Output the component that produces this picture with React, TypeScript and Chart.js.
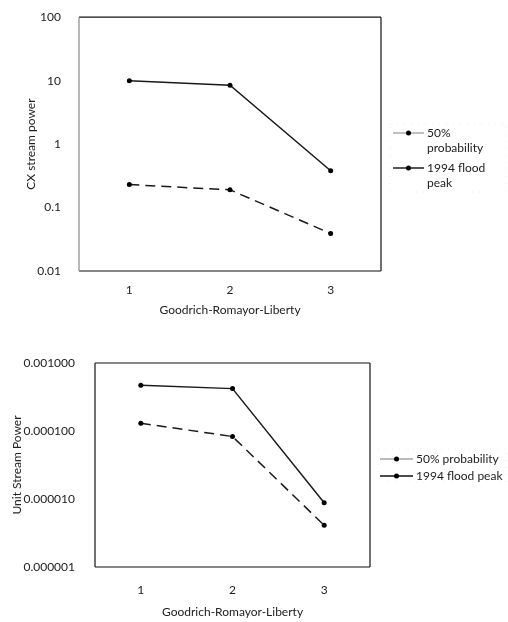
import React, { useEffect, useRef } from "react";
import { Chart, registerables } from "chart.js";

Chart.register(...registerables);

const categories = ["1", "2", "3"];
const seriesLabels = ["50% probability", "1994 flood peak"];
const cxProb50 = [0.23, 0.19, 0.039];
const cxFlood1994 = [10, 8.5, 0.38];
const cxTicks = [0.01, 0.1, 1, 10, 100];
const unitProb50 = [0.00013, 0.000083, 0.0000041];
const unitFlood1994 = [0.00047, 0.00042, 0.0000088];
const unitTicks = [0.000001, 0.00001, 0.0001, 0.001];
const xTitle = "Goodrich-Romayor-Liberty";
const cxTitle = "CX stream power";
const unitTitle = "Unit Stream Power";

const FONT = "Lato, 'DejaVu Sans', sans-serif";

const framePlugin = {
  id: "frame",
  afterDatasetsDraw(chart: any, _a: any, opts: any) {
    const { left, right, top, bottom } = chart.chartArea;
    const ctx = chart.ctx;
    ctx.save();
    ctx.lineWidth = 1.2;
    const seg = (x1: number, y1: number, x2: number, y2: number, c: string) => {
      ctx.strokeStyle = c;
      ctx.beginPath();
      ctx.moveTo(x1, y1);
      ctx.lineTo(x2, y2);
      ctx.stroke();
    };
    seg(left, top, right, top, "#111");
    seg(right, top, right, bottom, "#111");
    seg(left, bottom, right, bottom, "#111");
    seg(left, top, left, bottom, opts.leftColor || "#111");
    ctx.restore();
  },
};

const sideLegendPlugin = {
  id: "sideLegend",
  afterDraw(chart: any, _a: any, opts: any) {
    const ctx = chart.ctx;
    ctx.save();
    ctx.font = `${opts.fontSize}px ${FONT}`;
    ctx.textBaseline = "middle";
    ctx.textAlign = "left";
    if (opts.box) {
      ctx.strokeStyle = "#ececec";
      ctx.lineWidth = 1;
      ctx.setLineDash([1, 6]);
      ctx.strokeRect(opts.box[0], opts.box[1], opts.box[2], opts.box[3]);
      ctx.setLineDash([]);
    }
    let y = opts.y;
    chart.data.datasets.forEach((ds: any, i: number) => {
      const words = String(ds.label).split(" ");
      const lines: string[] = [];
      let cur = "";
      words.forEach((w) => {
        const t = cur ? cur + " " + w : w;
        if (cur && ctx.measureText(t).width > opts.maxWidth) {
          lines.push(cur);
          cur = w;
        } else cur = t;
      });
      if (cur) lines.push(cur);
      ctx.strokeStyle = opts.lineColors[i];
      ctx.lineWidth = opts.lineWidths[i];
      ctx.beginPath();
      ctx.moveTo(opts.x, y);
      ctx.lineTo(opts.x + opts.lineLen, y);
      ctx.stroke();
      ctx.fillStyle = "#000";
      ctx.beginPath();
      ctx.arc(opts.x + opts.lineLen / 2, y, 2.5, 0, Math.PI * 2);
      ctx.fill();
      ctx.fillStyle = "#222";
      lines.forEach((l, j) => ctx.fillText(l, opts.x + opts.lineLen + 3, y + j * opts.lineHeight));
      y += lines.length * opts.lineHeight + opts.gap;
    });
    ctx.restore();
  },
};

type Cfg = {
  width: number;
  height: number;
  top: number;
  prob: number[];
  flood: number[];
  ticks: number[];
  fmt: (v: number) => string;
  yTitle: string;
  padLeft: number;
  padTop: number;
  padRight: number;
  padBottom: number;
  yAxisWidth: number;
  xAxisHeight: number;
  yTickPad: number;
  xTickPad: number;
  legend: any;
  leftColor: string;
};

function LogChart(cfg: Cfg) {
  const ref = useRef<HTMLCanvasElement>(null);
  useEffect(() => {
    if (!ref.current) return;
    const chart = new Chart(ref.current, {
      type: "line",
      data: {
        labels: categories,
        datasets: [
          {
            label: seriesLabels[0],
            data: cfg.prob,
            borderColor: "#1a1a1a",
            borderWidth: 1.5,
            borderDash: [10, 6],
            pointRadius: 2.5,
            pointBackgroundColor: "#000",
            pointBorderColor: "#000",
            pointBorderWidth: 0,
            tension: 0,
          },
          {
            label: seriesLabels[1],
            data: cfg.flood,
            borderColor: "#1a1a1a",
            borderWidth: 1.5,
            pointRadius: 2.5,
            pointBackgroundColor: "#000",
            pointBorderColor: "#000",
            pointBorderWidth: 0,
            tension: 0,
          },
        ],
      },
      options: {
        animation: false,
        responsive: false,
        maintainAspectRatio: false,
        layout: {
          padding: { left: cfg.padLeft, top: cfg.padTop, right: cfg.padRight, bottom: cfg.padBottom },
        },
        font: { family: FONT },
        plugins: {
          legend: { display: false },
          tooltip: { enabled: false },
          frame: { leftColor: cfg.leftColor },
          sideLegend: cfg.legend,
        } as any,
        scales: {
          x: {
            type: "category",
            offset: true,
            grid: { display: false },
            border: { display: false },
            ticks: { color: "#222", font: { family: FONT, size: 12 }, padding: cfg.xTickPad, maxRotation: 0 },
            title: {
              display: true,
              text: xTitle,
              color: "#222",
              font: { family: FONT, size: 12 },
              padding: { top: 4, bottom: 3 },
            },
            afterFit: (s: any) => {
              s.height = cfg.xAxisHeight;
            },
          },
          y: {
            type: "logarithmic",
            min: cfg.ticks[0],
            max: cfg.ticks[cfg.ticks.length - 1],
            grid: { display: false },
            border: { display: false },
            ticks: {
              color: "#222",
              font: { family: FONT, size: 12 },
              padding: cfg.yTickPad,
              callback: (v: any) => cfg.fmt(Number(v)),
            },
            afterBuildTicks: (s: any) => {
              s.ticks = cfg.ticks.map((v) => ({ value: v }));
            },
            title: {
              display: true,
              text: cfg.yTitle,
              color: "#222",
              font: { family: FONT, size: 12 },
              padding: { top: 0, bottom: 0 },
            },
            afterFit: (s: any) => {
              s.width = cfg.yAxisWidth;
            },
          },
        },
      },
      plugins: [framePlugin, sideLegendPlugin],
    });
    return () => chart.destroy();
  }, []);
  return (
    <canvas
      ref={ref}
      width={cfg.width}
      height={cfg.height}
      style={{ position: "absolute", left: 0, top: cfg.top, width: cfg.width, height: cfg.height }}
    />
  );
}

export default function App() {
  return (
    <div style={{ position: "absolute", left: 0, top: 0, width: 508, height: 622, background: "#fff" }}>
      <LogChart
        width={508}
        height={320}
        top={0}
        prob={cxProb50}
        flood={cxFlood1994}
        ticks={cxTicks}
        fmt={(v) => String(v)}
        yTitle={cxTitle}
        padLeft={24}
        padTop={12}
        padRight={127}
        padBottom={0}
        yAxisWidth={55}
        xAxisHeight={49}
        yTickPad={10}
        xTickPad={4}
        leftColor="#888"
        legend={{
          x: 393,
          y: 133,
          lineLen: 31,
          fontSize: 12,
          lineHeight: 15,
          gap: 5,
          maxWidth: 72,
          lineColors: ["#aaa", "#555"],
          lineWidths: [1.5, 2],
          box: [390, 124, 116, 68],
        }}
      />
      <LogChart
        width={508}
        height={302}
        top={320}
        prob={unitProb50}
        flood={unitFlood1994}
        ticks={unitTicks}
        fmt={(v) => v.toFixed(6)}
        yTitle={unitTitle}
        padLeft={10}
        padTop={43}
        padRight={138}
        padBottom={0}
        yAxisWidth={85}
        xAxisHeight={55}
        yTickPad={12}
        xTickPad={8}
        leftColor="#111"
        legend={{
          x: 380,
          y: 139,
          lineLen: 33,
          fontSize: 12,
          lineHeight: 15,
          gap: 2,
          maxWidth: 200,
          lineColors: ["#777", "#111"],
          lineWidths: [1, 1.6],
          box: [378, 129, 129, 33],
        }}
      />
    </div>
  );
}
